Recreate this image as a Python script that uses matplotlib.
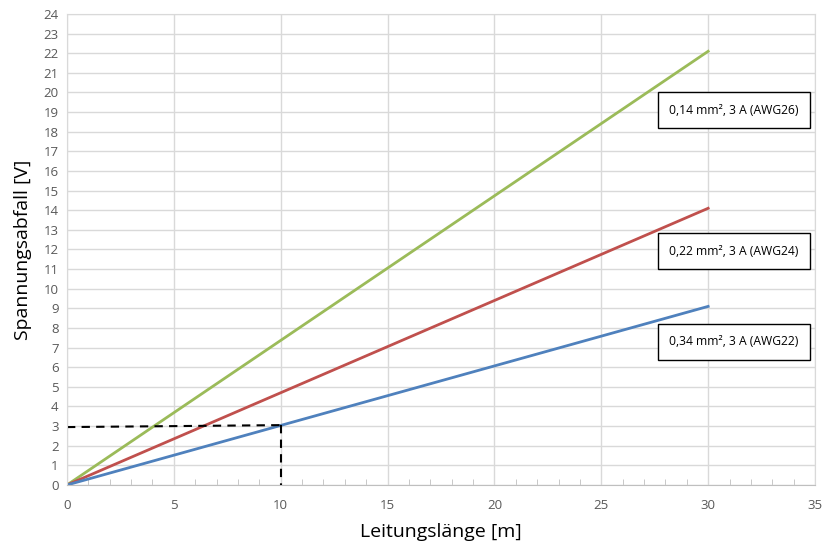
import matplotlib
matplotlib.use("Agg")
import matplotlib.pyplot as plt
from matplotlib.ticker import MultipleLocator

plt.rcParams['font.family'] = ['Open Sans', 'DejaVu Sans']

# data
lengths = [0, 30]
u_awg26 = [0, 22.1]
u_awg24 = [0, 14.1]
u_awg22 = [0, 9.1]
dash_h_x = [0, 10]
dash_h_y = [2.95, 3.05]
dash_v_x = [10, 10]
dash_v_y = [3.05, 0]
labels = ["0,14 mm², 3 A (AWG26)", "0,22 mm², 3 A (AWG24)", "0,34 mm², 3 A (AWG22)"]
label_y = [19.1, 11.9, 7.3]

fig = plt.figure(figsize=(8.25, 5.44), dpi=100)
ax = fig.add_axes([0.0812, 0.1085, 0.9067, 0.8658])

ax.plot(lengths, u_awg26, c="#9BBB59", lw=2)
ax.plot(lengths, u_awg24, c="#C0504D", lw=2)
ax.plot(lengths, u_awg22, c="#4F81BD", lw=2)
ax.plot(dash_h_x, dash_h_y, c="black", lw=1.5, ls=(0, (4, 3)))
ax.plot(dash_v_x, dash_v_y, c="black", lw=1.5, ls=(0, (4, 3)))

for txt, yy in zip(labels, label_y):
    ax.text(31.2, yy, txt, ha="center", va="center", fontsize=8.7,
            bbox=dict(boxstyle="square,pad=0.95", fc="white", ec="black", lw=1))

ax.set_xlim(0, 35)
ax.set_ylim(0, 24)
ax.xaxis.set_major_locator(MultipleLocator(5))
ax.xaxis.set_minor_locator(MultipleLocator(1))
ax.yaxis.set_major_locator(MultipleLocator(1))
ax.grid(True, which="major", color="#D9D9D9", lw=1)
ax.set_axisbelow(True)

for s in ["top", "right", "left"]:
    ax.spines[s].set_color("#D9D9D9")
ax.spines["bottom"].set_color("#BFBFBF")

ax.tick_params(axis="x", which="major", length=0, pad=10, labelsize=9.5, labelcolor="#595959")
ax.tick_params(axis="x", which="minor", length=4, direction="in", color="#BFBFBF")
ax.tick_params(axis="y", length=0, pad=6, labelsize=9.5, labelcolor="#595959")

ax.set_xlabel("Leitungslänge [m]", fontsize=14, labelpad=8)
ax.set_ylabel("Spannungsabfall [V]", fontsize=14, labelpad=8)

fig.savefig("out.png", dpi=100)
